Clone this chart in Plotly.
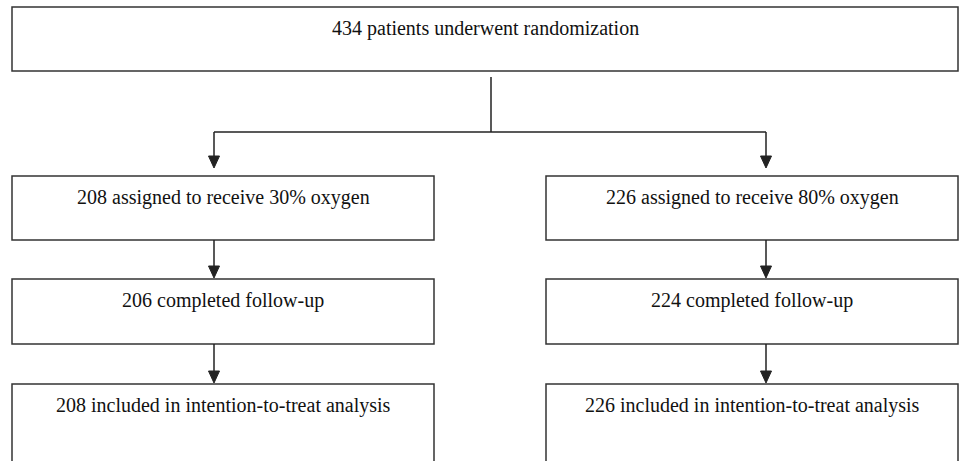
import plotly.graph_objects as go

# ---- data ----
randomized = [434]
arm_labels = ["30% oxygen", "80% oxygen"]
assigned = [208, 226]
completed = [206, 224]
itt = [208, 226]

top_text = f"{randomized[0]} patients underwent randomization"
assigned_text = [f"{n} assigned to receive {a}" for n, a in zip(assigned, arm_labels)]
completed_text = [f"{n} completed follow-up" for n in completed]
itt_text = [f"{n} included in intention-to-treat analysis" for n in itt]

# ---- layout geometry (pixels) ----
W, H = 959, 461
LINE = "#222222"
BOX = "#333333"
FONT = dict(family="Liberation Serif, Times New Roman, serif", size=20, color="#111111")

top_box = (12, 7, 958, 71)
col_boxes = [(12, 434), (546, 958)]
row_y = [(176, 240), (279, 344), (384, 470)]
arrow_x = [214, 766]
split_x = 491
split_top, split_y = 77, 132

shapes = []
annotations = []


def rect(x0, y0, x1, y1):
    shapes.append(dict(type="rect", x0=x0, y0=y0, x1=x1, y1=y1, xref="x", yref="y",
                       line=dict(color=BOX, width=1.5), fillcolor="rgba(0,0,0,0)", layer="above"))


def line(x0, y0, x1, y1):
    shapes.append(dict(type="line", x0=x0, y0=y0, x1=x1, y1=y1, xref="x", yref="y",
                       line=dict(color=LINE, width=1.5)))


def arrow(x, y0, y1):
    line(x, y0, x, y1 - 10)
    shapes.append(dict(type="path", xref="x", yref="y",
                       path=f"M {x-5.5},{y1-12} L {x+5.5},{y1-12} L {x},{y1} Z",
                       fillcolor=LINE, line=dict(color=LINE, width=1)))


def text(x, y, s):
    annotations.append(dict(x=x, y=y, xref="x", yref="y", text=s, showarrow=False,
                            xanchor="center", yanchor="middle", font=FONT))


# top box
rect(*top_box)
text((top_box[0] + top_box[2]) / 2, 28, top_text)

# split
line(split_x, split_top, split_x, split_y)
line(arrow_x[0], split_y, arrow_x[1], split_y)
for ax in arrow_x:
    arrow(ax, split_y, row_y[0][0] - 8)

texts_by_row = [assigned_text, completed_text, itt_text]
for r, (y0, y1) in enumerate(row_y):
    for c, (x0, x1) in enumerate(col_boxes):
        rect(x0, y0, x1, y1)
        text((x0 + x1) / 2, y0 + 21, texts_by_row[r][c])
        if r < len(row_y) - 1:
            arrow(arrow_x[c], y1, row_y[r + 1][0] - 1)

fig = go.Figure()
fig.update_layout(
    width=W, height=H,
    margin=dict(l=0, r=0, t=0, b=0),
    paper_bgcolor="white", plot_bgcolor="white",
    xaxis=dict(range=[0, W], visible=False, fixedrange=True),
    yaxis=dict(range=[H, 0], visible=False, fixedrange=True),
    shapes=shapes, annotations=annotations, showlegend=False,
)
fig.write_html("out.html", config={"displayModeBar": False},
               post_script="document.body.style.margin='0';document.body.style.overflow='hidden';")
